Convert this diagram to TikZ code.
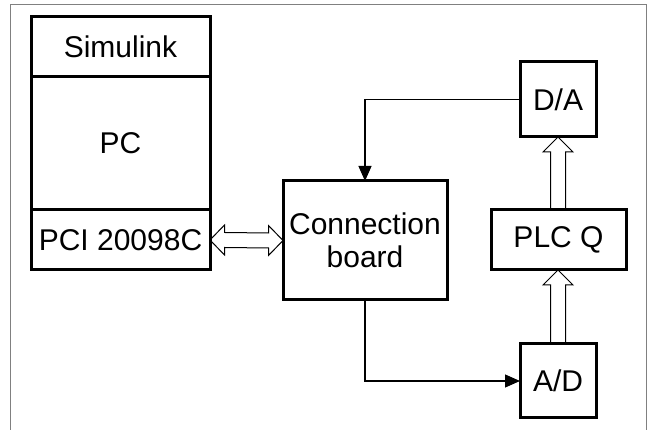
\documentclass[tikz,border=0pt]{standalone}
\usepackage{fontspec}
\setmainfont{Liberation Sans}
\usetikzlibrary{arrows.meta, positioning, calc}

\begin{document}
\begin{tikzpicture}[x=1pt, y=1pt,
    unit/.style={rectangle, draw, line width=3pt, outer sep=0pt, inner sep=0pt,
                 font=\fontsize{30}{33}\selectfont, align=center},
    link/.style={-{Triangle[length=15pt, width=13pt]}, line width=1.2pt},
    hollow/.style={line width=1pt}
]
    \useasboundingbox (0,0) rectangle (652,430);
    \draw[gray, line width=1pt] (10,0) |- (646,425) -- (646,0);
    % PC stack
    \node[unit, minimum width=179pt, minimum height=60pt] (sim) at (120.5,383) {Simulink};
    \node[unit, minimum width=179pt, minimum height=133pt, below=0pt of sim] (pc) {PC};
    \node[unit, minimum width=179pt, minimum height=60pt, below=0pt of pc] (pci) {PCI 20098C};
    \node[unit, minimum width=164pt, minimum height=119pt] (conn) at (365,189.5) {Connection\\board};
    \node[unit, minimum width=76pt, minimum height=75pt] (da) at (558,330.5) {D/A};
    \node[unit, minimum width=135pt, minimum height=60pt] (plc) at (558.5,190) {PLC Q};
    \node[unit, minimum width=76pt, minimum height=74pt] (ad) at (558,49) {A/D};
    % signal lines
    \draw[link] (da.west) -| (conn.north);
    \draw[link] (conn.south) |- (ad.west);
    % hollow double arrow PCI <-> board
    \draw[hollow] (pci.east) -- ++(14.5,15) -- ++(0,-7.5) -- ($(conn.west)+(-14.5,7.5)$)
        -- ++(0,7.5) -- (conn.west) -- ++(-14.5,-15) -- ++(0,7.5)
        -- ($(pci.east)+(14.5,-7.5)$) -- ++(0,-7.5) -- cycle;
    % hollow arrows A/D -> PLC -> D/A
    \draw[hollow] ($(da.south |- plc.north)+(-7.5,0)$) -- ($(da.south)+(-7.5,-15)$)
        -- ++(-7.5,0) -- (da.south) -- ++(15,-15) -- ++(-7.5,0)
        -- ($(da.south |- plc.north)+(7.5,0)$);
    \draw[hollow] ($(ad.north)+(-7.5,0)$) -- ($(ad.north |- plc.south)+(-7.5,-15)$)
        -- ++(-7.5,0) -- (ad.north |- plc.south) -- ++(15,-15) -- ++(-7.5,0)
        -- ($(ad.north)+(7.5,0)$);
\end{tikzpicture}
\end{document}
